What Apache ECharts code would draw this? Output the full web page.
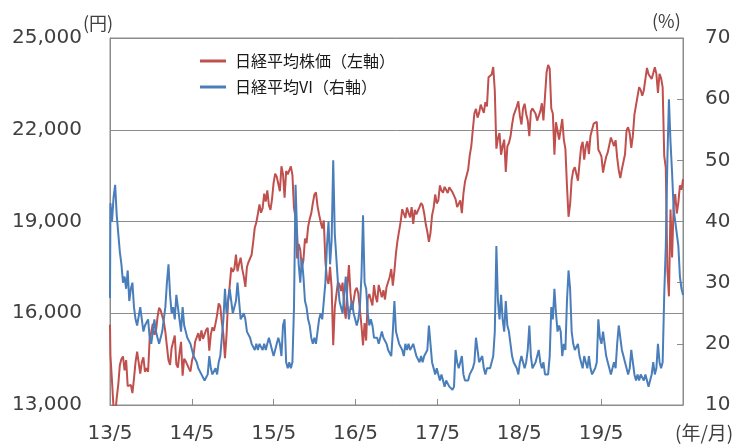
<!DOCTYPE html>
<html>
<head>
<meta charset="utf-8">
<script src="https://cdn.jsdelivr.net/npm/echarts/dist/echarts.min.js"></script>
<style>
  html, body { margin: 0; padding: 0; background: #fff; }
  #main { width: 739px; height: 444px; }
</style>
</head>
<body>
<div id="main"></div>
<script>
// 日経平均株価（円）: 2013/5/22, then weekly (Friday) values
var nikkei2013 = [15627, 14612, 13775, 12877, 12686, 13230, 13677, 14310, 14506, 14589, 14129, 14466, 13615, 13650, 13660, 13389, 13861, 14404, 14742, 14760, 14024, 14404, 14561, 14088, 14201, 14086, 15165, 15381, 15661, 15299, 15403, 15870, 16178];
var nikkei2014 = [16100, 15912, 15734, 15391, 14914, 14462, 14313, 14865, 14841, 15274, 14327, 14224, 14696, 15063, 13960, 14516, 14429, 14457, 14199, 14097, 14462, 14632, 15077, 15097, 15349, 15095, 15437, 15164, 15215, 15457, 15523, 14778, 15318, 15539, 15425, 15669, 15948, 16321, 16229, 15708, 15300, 14532, 15291, 16413, 16880, 17490, 17357, 17459, 17920, 17371, 17621, 17818];
var nikkei2015 = [17450, 17197, 16864, 17511, 17674, 17648, 17913, 18332, 18798, 18971, 19254, 19560, 19286, 19435, 19908, 19653, 20020, 19531, 19379, 19733, 20264, 20563, 20461, 20407, 19990, 20806, 20539, 19780, 20650, 20544, 20585, 20800, 20519, 19436, 19136, 17792, 18264, 18070, 17500, 17725, 18438, 18291, 18825, 19083, 19265, 19597, 19880, 19950, 19504, 19230, 18986, 18770];
var nikkei2016 = [19034, 17698, 17147, 16958, 17518, 16820, 14953, 16192, 16189, 17015, 16939, 16725, 17003, 16164, 15822, 16849, 17572, 16666, 16106, 16412, 16736, 16835, 16642, 16601, 15600, 14952, 15682, 15107, 16497, 16627, 16569, 16254, 16920, 16546, 16361, 16926, 16965, 16519, 16754, 16450, 16860, 16856, 17185, 17446, 16905, 17375, 17968, 18381, 18427, 18997, 19401, 19428, 19114];
var nikkei2017 = [19454, 19287, 19137, 19467, 18918, 19379, 19235, 19284, 19469, 19605, 19522, 19263, 18909, 18665, 18336, 18621, 19197, 19446, 19883, 19591, 19687, 20178, 20013, 19943, 20133, 20033, 19929, 20119, 20100, 19960, 19952, 19730, 19470, 19453, 19692, 19275, 19910, 20296, 20356, 20691, 21155, 21457, 22008, 22539, 22681, 22397, 22551, 22819, 22811, 22553, 22902, 22765];
var nikkei2018 = [23715, 23654, 23808, 24050, 23275, 21383, 21720, 21893, 21182, 21470, 21677, 20618, 21455, 21568, 21779, 22163, 22468, 22473, 22758, 22930, 22451, 22171, 22695, 22852, 22517, 22305, 21788, 22597, 22698, 22713, 22526, 22298, 22270, 22602, 22865, 22307, 23095, 23870, 24120, 24000, 22695, 22532, 21185, 22244, 22250, 21680, 21647, 22351, 21679, 21375, 20166, 19155];
var nikkei2019 = [19561, 20360, 20666, 20774, 20788, 20333, 20901, 21426, 21603, 21026, 21451, 21627, 21206, 21807, 21870, 22200, 22259, 22259, 21345, 21250, 21117, 20601, 20885, 21117, 21259, 21276, 21746, 21686, 21467, 21658, 21088, 20685, 20419, 20711, 20704, 21200, 21988, 22079, 21879, 21410, 21799, 22493, 22799, 22851, 23392, 23303, 23113, 23294, 23354, 24023, 23817, 23838];
var nikkei2020 = [23657, 23851, 24041, 23827, 23205, 23828, 23688, 23387, 21143, 20750, 17431, 16553, 19389, 17820, 19499, 19897, 19262, 19619, 20179, 20037, 20388];

// 日経平均VI（%）: same weeks
var vi2013 = [27.5, 43, 40, 44, 46, 41, 38, 35, 33, 30, 31, 29, 32, 27, 29, 30, 26, 24, 23, 23, 26, 24, 22, 23, 23, 24, 21, 20, 20, 24, 22, 21, 20];
var vi2014 = [21, 22, 22, 26, 30, 33, 28, 25, 26, 24, 28, 26, 24, 22, 26, 23, 22, 21, 21, 20, 19, 18, 18, 17, 16, 16, 15, 15, 14, 14, 15, 18, 16, 15, 15, 16, 15, 17, 18, 21, 24, 29, 25, 27, 29, 27, 25, 26, 27, 30, 27, 24];
var vi2015 = [24, 25, 24, 22, 22, 21, 20, 20, 19, 20, 19, 20, 20, 19, 20, 19, 20, 21, 20, 19, 18, 19, 20, 21, 20, 18, 23, 24, 17, 16, 17, 16, 17, 26, 46, 38, 33, 30, 34, 31, 27, 26, 24, 23, 21, 20, 21, 20, 22, 24, 25, 24];
var vi2016 = [24, 30, 36, 40, 33, 37, 50, 38, 34, 30, 27, 26, 25, 28, 31, 27, 24, 26, 27, 25, 24, 23, 24, 26, 31, 41, 30, 29, 25, 23, 24, 23, 21, 21, 21, 20, 20, 22, 21, 21, 20, 19, 19, 18, 22, 27, 22, 21, 20, 20, 19, 18, 20];
var vi2017 = [19, 20, 19, 19, 20, 19, 18, 18, 17, 18, 17, 18, 18, 19, 23, 20, 17, 16, 15, 16, 15, 14, 15, 14, 13, 14, 14, 13, 13, 12.5, 13, 19, 17, 16, 17, 18, 15, 14, 14, 14, 15, 15, 16, 17, 21, 19, 17, 17, 18, 16, 15, 16];
var vi2018 = [16, 16, 17, 18, 22, 36, 27, 24, 28, 24, 22, 27, 23, 22, 20, 18, 17, 17, 16, 15, 17, 18, 17, 16, 17, 19, 23, 18, 16, 16, 17, 17, 19, 17, 16, 17, 15, 15, 15, 18, 26, 24, 29, 25, 22, 23, 22, 18, 20, 19, 27, 32];
var vi2019 = [29, 22, 20, 19, 19, 20, 18, 17, 16, 18, 17, 16, 18, 16, 15, 15, 16, 17, 24, 21, 20, 22, 20, 18, 17, 16, 15, 16, 17, 16, 20, 23, 21, 19, 18, 17, 16, 15, 16, 19, 17, 15, 14, 15, 14, 15, 15, 14, 15, 14, 13, 14];
var vi2020 = [15, 17, 15, 16, 20, 17, 16, 17, 28, 36, 50, 60, 53, 48, 42, 40, 38, 36, 31, 29, 28];

var xTickLabels = ['13/5', '14/5', '15/5', '16/5', '17/5', '18/5', '19/5'];

var nikkei = [].concat(nikkei2013, nikkei2014, nikkei2015, nikkei2016, nikkei2017, nikkei2018, nikkei2019, nikkei2020);
var vi = [].concat(vi2013, vi2014, vi2015, vi2016, vi2017, vi2018, vi2019, vi2020);

var DAY = 86400000;
var start = Date.UTC(2013, 4, 22);
var firstFriday = Date.UTC(2013, 4, 24);
// years since 2013/5/22 for the i-th observation
function yearsAt(i) {
  var d = i === 0 ? start : firstFriday + (i - 1) * 7 * DAY;
  return (d - start) / (365.25 * DAY);
}

var gray = '#8c8c8c';
var numFont = 'DejaVu Sans';
var jpFont = 'Noto Sans CJK JP';

var myChart = echarts.init(document.getElementById('main'));

myChart.setOption({
  animation: false,
  grid: { left: 110, right: 56, top: 38, bottom: 38, show: true, borderColor: gray, borderWidth: 1 },
  legend: {
    orient: 'vertical',
    left: 195,
    top: 48,
    itemWidth: 26,
    itemHeight: 3,
    itemGap: 10,
    icon: 'rect',
    textStyle: { fontSize: 16, color: '#1a1a1a', fontFamily: jpFont, padding: [0, 0, 0, 4] },
    data: ['日経平均株価（左軸）', '日経平均VI（右軸）']
  },
  xAxis: {
    type: 'value',
    min: 0,
    max: 7,
    interval: 1,
    axisLine: { show: true, lineStyle: { color: gray } },
    axisTick: { show: true, inside: true, length: 6, lineStyle: { color: gray } },
    axisLabel: {
      fontSize: 20, color: '#404040', fontFamily: numFont, margin: 19,
      formatter: function (v) { return xTickLabels[Math.round(v)] || ''; }
    },
    splitLine: { show: false }
  },
  yAxis: [{
    type: 'value',
    position: 'left',
    min: 13000,
    max: 25000,
    interval: 3000,
    axisLine: { show: true, lineStyle: { color: gray } },
    axisTick: { show: false },
    axisLabel: {
      fontSize: 20, color: '#404040', fontFamily: numFont, margin: 28,
      formatter: function (v) { return v.toLocaleString('en-US'); }
    },
    splitLine: { show: true, lineStyle: { color: gray, width: 1 } }
  }, {
    type: 'value',
    position: 'right',
    min: 10,
    max: 70,
    interval: 10,
    axisLine: { show: true, lineStyle: { color: gray } },
    axisTick: { show: true, inside: true, length: 6, lineStyle: { color: gray } },
    axisLabel: { fontSize: 20, color: '#404040', fontFamily: numFont, margin: 22 },
    splitLine: { show: false }
  }],
  graphic: [
    { type: 'text', left: 83, top: 14, style: { text: '(円)', fontSize: 18, fill: '#404040', fontFamily: jpFont } },
    { type: 'text', left: 652, top: 12, style: { text: '(%)', fontSize: 18, fill: '#404040', fontFamily: jpFont } },
    { type: 'text', left: 675, top: 423, style: { text: '(年/月)', fontSize: 19, fill: '#404040', fontFamily: jpFont } }
  ],
  series: [{
    name: '日経平均株価（左軸）',
    type: 'line',
    yAxisIndex: 0,
    showSymbol: false,
    color: '#C0504D',
    lineStyle: { width: 2, color: '#C0504D' },
    data: nikkei.map(function (v, i) { return [yearsAt(i), v]; })
  }, {
    name: '日経平均VI（右軸）',
    type: 'line',
    yAxisIndex: 1,
    showSymbol: false,
    color: '#4A7EBB',
    lineStyle: { width: 2, color: '#4A7EBB' },
    data: vi.map(function (v, i) { return [yearsAt(i), v]; })
  }]
});
</script>
</body>
</html>
